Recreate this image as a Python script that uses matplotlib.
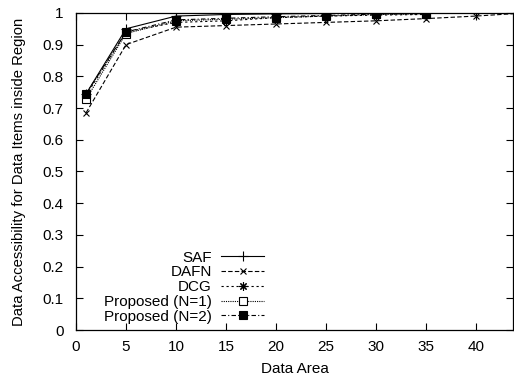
import numpy as np
import matplotlib.pyplot as plt

plt.rcParams['font.family'] = ['Liberation Sans', 'DejaVu Sans']
plt.rcParams['font.size'] = 11

# data area vs accessibility
x_all = [1, 5, 10, 15, 20, 25, 30, 35, 40, 45]
x_prop = [1, 5, 10, 15, 20, 25, 30, 35]

saf = [0.745, 0.950, 0.990, 0.995, 0.997, 0.998, 0.999, 1.000, 1.000, 1.000]
dafn = [0.685, 0.900, 0.955, 0.960, 0.965, 0.970, 0.975, 0.982, 0.990, 1.000]
dcg = [0.740, 0.940, 0.970, 0.975, 0.985, 0.990, 0.993, 0.995]
prop1 = [0.728, 0.935, 0.975, 0.980, 0.985, 0.990, 0.995, 0.997]
prop2 = [0.745, 0.940, 0.978, 0.983, 0.988, 0.992, 0.996, 0.998]

fig = plt.figure(figsize=(5.14, 3.79), dpi=100)
ax = fig.add_axes([0.148, 0.129, 0.850, 0.837])

lw = 0.8
ax.plot(x_all, saf, color='k', lw=lw, ls='-', marker='+', ms=7, mew=lw, label='SAF')
ax.plot(x_all, dafn, color='k', lw=lw, ls=(0, (4, 2)), marker='x', ms=5, mew=lw, label='DAFN')
ax.plot(x_prop, dcg, color='k', lw=lw, ls=(0, (2, 2.5)), marker=(8, 2, 0), ms=6, mew=lw, label='DCG')
ax.plot(x_prop, prop1, color='k', lw=lw, ls=(0, (1, 1)), marker='s', ms=5.5, mfc='white', mew=lw, label='Proposed (N=1)')
ax.plot(x_prop, prop2, color='k', lw=lw, ls=(0, (4, 2, 1, 2)), marker='s', ms=5.5, mfc='k', mew=lw, label='Proposed (N=2)')

ax.set_xlim(0, 43.7)
ax.set_ylim(0, 1)
ax.set_xticks(np.arange(0, 41, 5))
ax.set_yticks(np.arange(0, 1.01, 0.1))
ax.set_yticklabels(['0', '0.1', '0.2', '0.3', '0.4', '0.5', '0.6', '0.7', '0.8', '0.9', '1'])
ax.tick_params(direction='in', length=5, width=0.8, top=True, right=True, labelsize=11)
ax.tick_params(axis='y', pad=9)
ax.tick_params(axis='x', pad=7)
for s in ax.spines.values():
    s.set_linewidth(0.9)

ax.set_xlabel('Data Area', fontsize=11, labelpad=6)
ax.set_ylabel('Data Accessibility for Data Items inside Region', fontsize=10.7, labelpad=12)

ax.legend(loc='lower right', bbox_to_anchor=(0.43, 0.02), frameon=False, markerfirst=False,
          handlelength=2.8, handletextpad=0.6, labelspacing=0.05, borderpad=0,
          borderaxespad=0, fontsize=11)

fig.savefig('out.png', dpi=100)
